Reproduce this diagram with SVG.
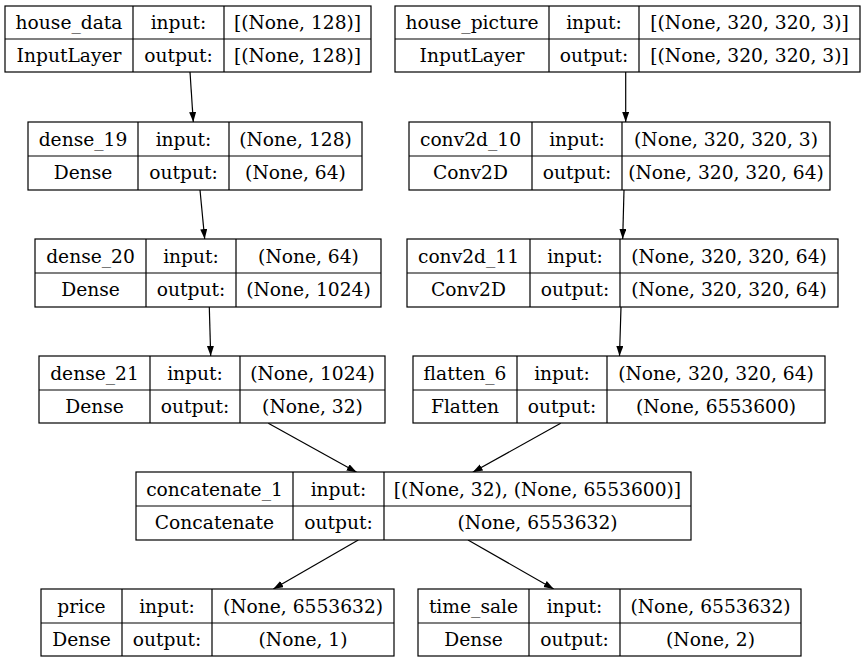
<svg xmlns="http://www.w3.org/2000/svg" width="864" height="663" viewBox="0 0 864 663">
<style>
.box{fill:#fff;stroke:#000;stroke-width:1.2}
.ln{stroke:#000;stroke-width:1.2;fill:none}
text{font-family:"DejaVu Serif","Liberation Serif",serif;font-size:18.67px;text-anchor:middle;fill:#000}
.edge{stroke:#000;stroke-width:1.2;fill:none;marker-end:url(#ah)}
</style>
<defs>
<marker id="ah" markerUnits="userSpaceOnUse" markerWidth="11" markerHeight="8" refX="10" refY="3.5" orient="auto">
<path d="M0,0 L10,3.5 L0,7 z" fill="#000"/>
</marker>
</defs>
<rect width="864" height="663" fill="#fff"/>
<g id="connectors">
<line class="edge" x1="190" y1="72" x2="193.3" y2="122"/>
<line class="edge" x1="625.7" y1="72" x2="625.7" y2="122"/>
<line class="edge" x1="200" y1="190" x2="204.7" y2="239"/>
<line class="edge" x1="624" y1="190" x2="622.7" y2="239"/>
<line class="edge" x1="209.3" y1="307" x2="210.7" y2="356"/>
<line class="edge" x1="621" y1="307" x2="619.5" y2="356"/>
<line class="edge" x1="268.3" y1="423.3" x2="356.7" y2="472.3"/>
<line class="edge" x1="560.7" y1="423.3" x2="472.7" y2="472.3"/>
<line class="edge" x1="358.3" y1="540" x2="273.3" y2="589"/>
<line class="edge" x1="468" y1="540" x2="553.7" y2="589"/>
</g>
<g id="house_data">
<rect class="box" x="5" y="6" width="366" height="66"/>
<path class="ln" d="M5,39H371M133,6V72M224,6V72"/>
<text x="69" y="29">house_data</text><text x="178.5" y="29">input:</text><text x="297.5" y="29">[(None, 128)]</text>
<text x="69" y="62">InputLayer</text><text x="178.5" y="62">output:</text><text x="297.5" y="62">[(None, 128)]</text>
</g>
<g id="house_picture">
<rect class="box" x="395" y="6" width="465" height="66"/>
<path class="ln" d="M395,39H860M549,6V72M639,6V72"/>
<text x="472" y="29">house_picture</text><text x="594" y="29">input:</text><text x="749.5" y="29">[(None, 320, 320, 3)]</text>
<text x="472" y="62">InputLayer</text><text x="594" y="62">output:</text><text x="749.5" y="62">[(None, 320, 320, 3)]</text>
</g>
<g id="dense_19">
<rect class="box" x="28" y="122" width="334" height="68"/>
<path class="ln" d="M28,156H362M138,122V190M229,122V190"/>
<text x="83" y="146">dense_19</text><text x="183.5" y="146">input:</text><text x="295.5" y="146">(None, 128)</text>
<text x="83" y="179">Dense</text><text x="183.5" y="179">output:</text><text x="295.5" y="179">(None, 64)</text>
</g>
<g id="conv2d_10">
<rect class="box" x="409" y="122" width="421" height="68"/>
<path class="ln" d="M409,156H830M532,122V190M622,122V190"/>
<text x="470.5" y="146">conv2d_10</text><text x="577" y="146">input:</text><text x="726" y="146">(None, 320, 320, 3)</text>
<text x="470.5" y="179">Conv2D</text><text x="577" y="179">output:</text><text x="726" y="179">(None, 320, 320, 64)</text>
</g>
<g id="dense_20">
<rect class="box" x="35" y="239" width="346" height="68"/>
<path class="ln" d="M35,273H381M146,239V307M236,239V307"/>
<text x="90.5" y="263">dense_20</text><text x="191" y="263">input:</text><text x="308.5" y="263">(None, 64)</text>
<text x="90.5" y="296">Dense</text><text x="191" y="296">output:</text><text x="308.5" y="296">(None, 1024)</text>
</g>
<g id="conv2d_11">
<rect class="box" x="407" y="239" width="431" height="68"/>
<path class="ln" d="M407,273H838M530,239V307M620,239V307"/>
<text x="468.5" y="263">conv2d_11</text><text x="575" y="263">input:</text><text x="729" y="263">(None, 320, 320, 64)</text>
<text x="468.5" y="296">Conv2D</text><text x="575" y="296">output:</text><text x="729" y="296">(None, 320, 320, 64)</text>
</g>
<g id="dense_21">
<rect class="box" x="39" y="356" width="346" height="67"/>
<path class="ln" d="M39,390H385M150,356V423M240,356V423"/>
<text x="94.5" y="380">dense_21</text><text x="195" y="380">input:</text><text x="312.5" y="380">(None, 1024)</text>
<text x="94.5" y="413">Dense</text><text x="195" y="413">output:</text><text x="312.5" y="413">(None, 32)</text>
</g>
<g id="flatten_6">
<rect class="box" x="413" y="356" width="412" height="67"/>
<path class="ln" d="M413,390H825M517,356V423M607,356V423"/>
<text x="465" y="380">flatten_6</text><text x="562" y="380">input:</text><text x="716" y="380">(None, 320, 320, 64)</text>
<text x="465" y="413">Flatten</text><text x="562" y="413">output:</text><text x="716" y="413">(None, 6553600)</text>
</g>
<g id="concatenate_1">
<rect class="box" x="136" y="472" width="555" height="68"/>
<path class="ln" d="M136,506H691M293,472V540M384,472V540"/>
<text x="214.5" y="496">concatenate_1</text><text x="338.5" y="496">input:</text><text x="537.5" y="496">[(None, 32), (None, 6553600)]</text>
<text x="214.5" y="529">Concatenate</text><text x="338.5" y="529">output:</text><text x="537.5" y="529">(None, 6553632)</text>
</g>
<g id="price">
<rect class="box" x="41" y="589" width="353" height="67"/>
<path class="ln" d="M41,623H394M122,589V656M212,589V656"/>
<text x="81.5" y="613">price</text><text x="167" y="613">input:</text><text x="303" y="613">(None, 6553632)</text>
<text x="81.5" y="646">Dense</text><text x="167" y="646">output:</text><text x="303" y="646">(None, 1)</text>
</g>
<g id="time_sale">
<rect class="box" x="418" y="589" width="383" height="67"/>
<path class="ln" d="M418,623H801M529,589V656M620,589V656"/>
<text x="473.5" y="613">time_sale</text><text x="574.5" y="613">input:</text><text x="710.5" y="613">(None, 6553632)</text>
<text x="473.5" y="646">Dense</text><text x="574.5" y="646">output:</text><text x="710.5" y="646">(None, 2)</text>
</g>
</svg>
